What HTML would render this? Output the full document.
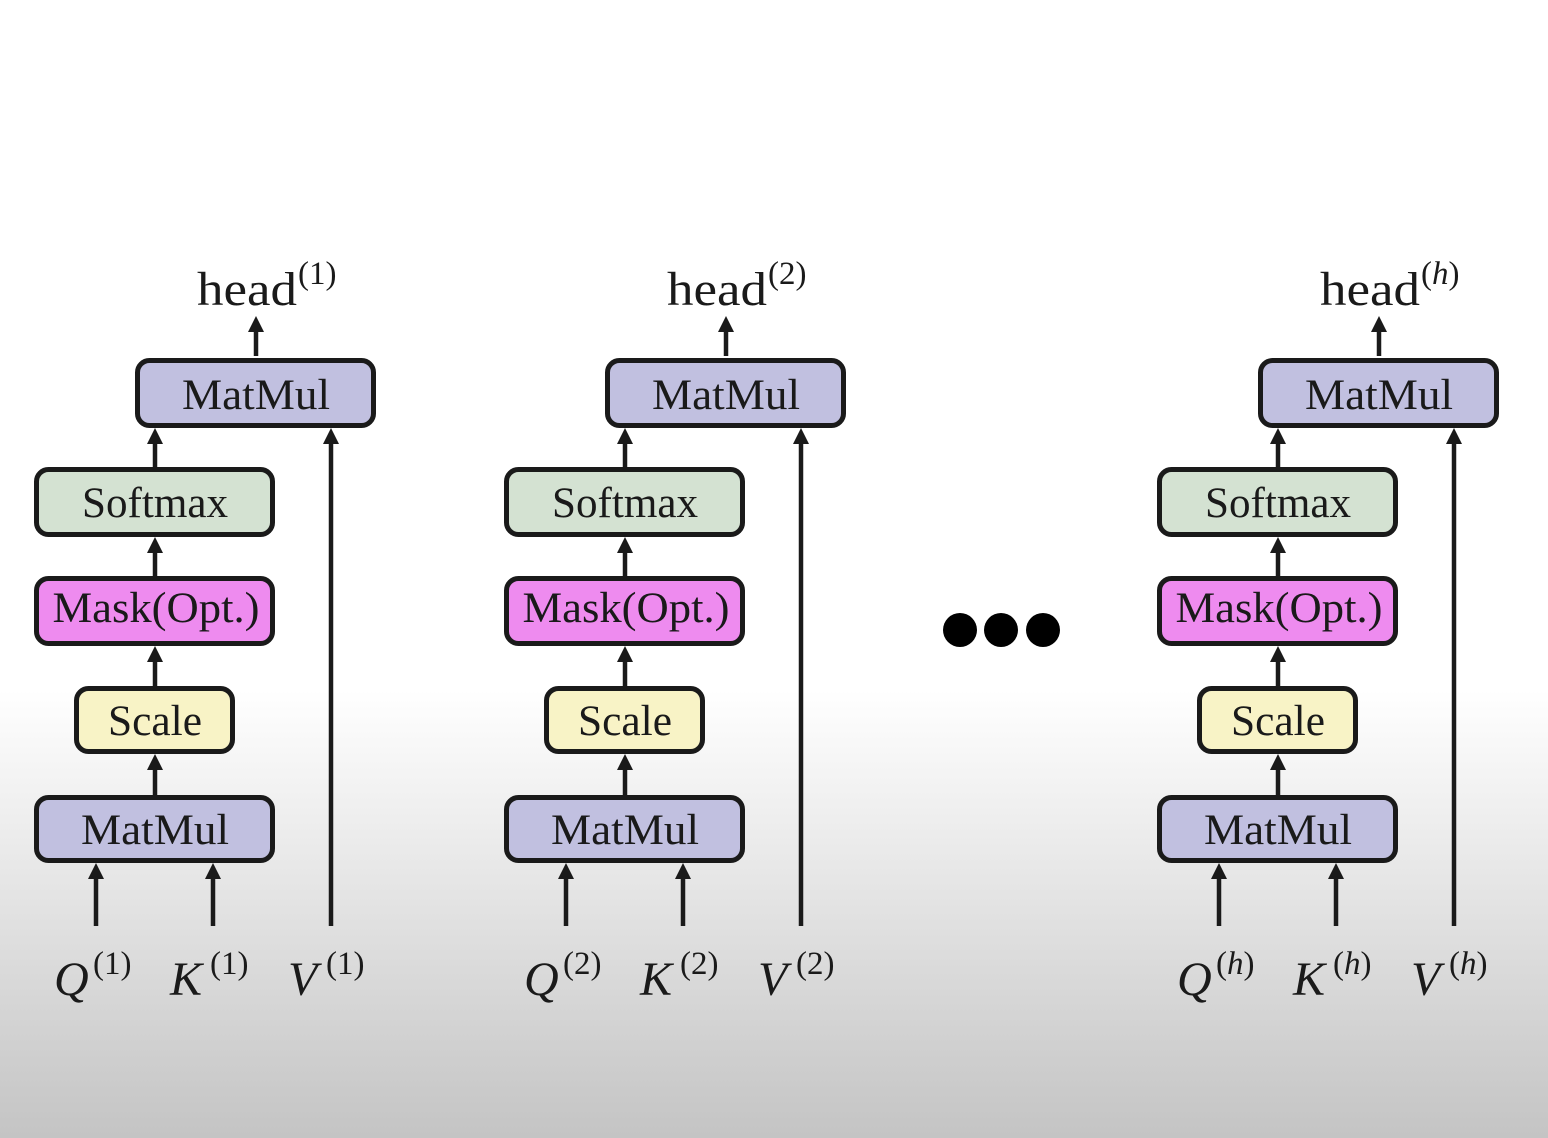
<!DOCTYPE html>
<html><head><meta charset="utf-8"><style>
html,body{margin:0;padding:0;width:1548px;height:1138px;overflow:hidden}
body{background:linear-gradient(to bottom,#ffffff 0px,#ffffff 690px,#e6e6e6 880px,#d6d6d6 1000px,#c4c4c4 1138px)}
svg{position:absolute;left:0;top:0}
text{font-family:"Liberation Serif",serif;fill:#1a1a1a}
.b{font-size:43px;text-anchor:middle}
.h{font-size:48px}
.s{font-size:33px}
.i{font-style:italic;font-size:48px}
</style></head><body>
<svg width="1548" height="1138" viewBox="0 0 1548 1138">
<defs>
<g id="col">
  <g stroke="#1a1a1a" stroke-width="5">
    <rect x="137.5" y="360.5" width="236" height="65" rx="12" fill="#c1c0e0"/>
    <rect x="36.5" y="469.5" width="236" height="65" rx="12" fill="#d4e2d2"/>
    <rect x="36.5" y="578.5" width="236" height="65" rx="12" fill="#ee8bef"/>
    <rect x="76.5" y="688.5" width="156" height="63" rx="12" fill="#f8f3c6"/>
    <rect x="36.5" y="797.5" width="236" height="63" rx="12" fill="#c1c0e0"/>
  </g>
  <text class="b" x="256" y="409" textLength="148" lengthAdjust="spacingAndGlyphs">MatMul</text>
  <text class="b" x="155" y="517" textLength="146" lengthAdjust="spacingAndGlyphs">Softmax</text>
  <text class="b" x="156" y="622" textLength="207" lengthAdjust="spacingAndGlyphs">Mask(Opt.)</text>
  <text class="b" x="155" y="735" textLength="94" lengthAdjust="spacingAndGlyphs">Scale</text>
  <text class="b" x="155" y="844" textLength="148" lengthAdjust="spacingAndGlyphs">MatMul</text>
  <g stroke="#1a1a1a" stroke-width="4.5">
    <line x1="256" y1="356" x2="256" y2="330"/>
    <line x1="155" y1="467" x2="155" y2="442"/>
    <line x1="155" y1="576" x2="155" y2="551"/>
    <line x1="155" y1="686" x2="155" y2="660"/>
    <line x1="155" y1="795" x2="155" y2="768"/>
    <line x1="96" y1="926" x2="96" y2="877"/>
    <line x1="213" y1="926" x2="213" y2="877"/>
    <line x1="331" y1="926" x2="331" y2="442"/>
  </g>
  <g fill="#1a1a1a">
    <polygon points="248,332 264,332 256,316"/>
    <polygon points="147,444 163,444 155,428"/>
    <polygon points="147,553 163,553 155,537"/>
    <polygon points="147,662 163,662 155,646"/>
    <polygon points="147,770 163,770 155,754"/>
    <polygon points="88,879 104,879 96,863"/>
    <polygon points="205,879 221,879 213,863"/>
    <polygon points="323,444 339,444 331,428"/>
  </g>
</g>
</defs>

<use href="#col"/>
<use href="#col" transform="translate(470,0)"/>
<use href="#col" transform="translate(1123,0)"/>

<text class="h" x="197" y="305" textLength="100" lengthAdjust="spacingAndGlyphs">head</text><text class="s" x="298" y="284">(1)</text>
<text class="h" x="667" y="305" textLength="100" lengthAdjust="spacingAndGlyphs">head</text><text class="s" x="768" y="284">(2)</text>
<text class="h" x="1320" y="305" textLength="100" lengthAdjust="spacingAndGlyphs">head</text><text class="s" x="1421" y="284">(<tspan font-style="italic">h</tspan>)</text>

<text class="i" x="54" y="995">Q</text><text class="s" x="93" y="974">(1)</text>
<text class="i" x="170" y="995">K</text><text class="s" x="210" y="974">(1)</text>
<text class="i" x="288" y="995">V</text><text class="s" x="326" y="974">(1)</text>

<text class="i" x="524" y="995">Q</text><text class="s" x="563" y="974">(2)</text>
<text class="i" x="640" y="995">K</text><text class="s" x="680" y="974">(2)</text>
<text class="i" x="758" y="995">V</text><text class="s" x="796" y="974">(2)</text>

<text class="i" x="1177" y="995">Q</text><text class="s" x="1216" y="974">(<tspan font-style="italic">h</tspan>)</text>
<text class="i" x="1293" y="995">K</text><text class="s" x="1333" y="974">(<tspan font-style="italic">h</tspan>)</text>
<text class="i" x="1411" y="995">V</text><text class="s" x="1449" y="974">(<tspan font-style="italic">h</tspan>)</text>

<g fill="#000">
  <circle cx="960" cy="630" r="17"/>
  <circle cx="1001" cy="630" r="17"/>
  <circle cx="1043" cy="630" r="17"/>
</g>
</svg>
</body></html>
